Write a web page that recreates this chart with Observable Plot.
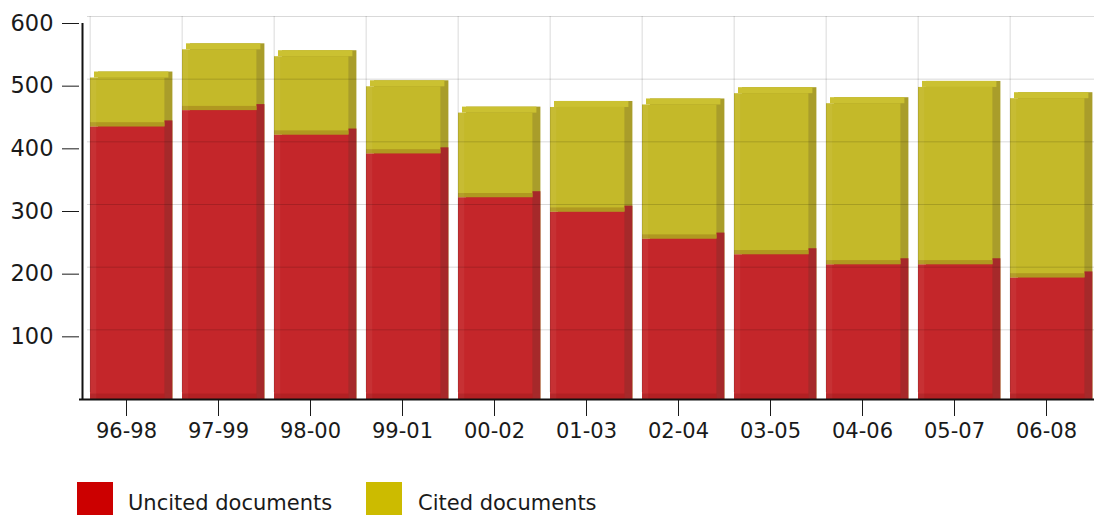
<!DOCTYPE html>
<html>
<head>
<meta charset="utf-8">
<script src="https://cdn.jsdelivr.net/npm/d3@7"></script>
<script src="https://cdn.jsdelivr.net/npm/@observablehq/plot@0.6"></script>
<style>
  html, body { margin: 0; padding: 0; background: #fff; }
  #wrap { position: relative; width: 1094px; height: 515px; overflow: hidden; font-family: "DejaVu Sans", sans-serif; }
  #legend { position: absolute; left: 0; top: 460px; width: 1094px; height: 55px; }
  .sw { position: absolute; top: 22px; width: 36px; height: 36px; }
  .lt { position: absolute; top: 33px; font-size: 21px; line-height: 21px; color: #1a1a1a; white-space: nowrap; }
  #chart svg [aria-label^="y-axis"] text { font-size: 22.5px; }
</style>
</head>
<body>
<div id="wrap">
  <div id="chart"></div>
  <div id="legend"></div>
</div>
<script>
// ---- data ----
const periods = ["96-98","97-99","98-00","99-01","00-02","01-03","02-04","03-05","04-06","05-07","06-08"];
const uncited = [435, 461, 422, 392, 322, 299, 256, 231, 215, 215, 194];
const cited   = [ 78,  97, 125, 107, 135, 167, 214, 257, 257, 283, 286];
const yTicks  = [100, 200, 300, 400, 500, 600];
const seriesNames = ["Uncited documents", "Cited documents"];

// ---- styling ----
const legendColors = ["#cc0000", "#ccbb00"];
const rFront = "#c4262a", rSide = "#a6292a";
const yFront = "#c4b929", ySide = "#a99d2a", yTop = "#cbc131";
const seam = "#b09820";

const W = 1094, H = 460, mTop = 23, mBottom = 61, mLeft = 79;
const yMax = 600;
const pxPerUnit = (H - mTop - mBottom) / yMax;
const depthPx = 6, sidePx = 8;
const depthUnits = depthPx / pxPerUnit;

const rows = periods.map((p, i) => ({period: p, uncited: uncited[i], cited: cited[i], total: uncited[i] + cited[i]}));

const inL = 10, inR = 7.6;

const chart = Plot.plot({
  width: W,
  height: H,
  marginTop: mTop,
  marginBottom: mBottom,
  marginLeft: mLeft,
  marginRight: 0,
  style: {fontFamily: "DejaVu Sans, sans-serif", fontSize: "21px", color: "#1a1a1a", background: "#fff", overflow: "visible"},
  x: {domain: periods, range: [76.65, 1096.35], padding: 0, tickSize: 17, tickPadding: 7, label: null},
  y: {domain: [0, yMax], ticks: yTicks, tickSize: 17, tickPadding: 9, label: null},
  marks: [
    // side faces (extruded, shifted back)
    Plot.barY(rows, {x: "period", y1: -depthUnits, y2: "total", fill: ySide, insetLeft: inL, insetRight: inR, dx: sidePx, dy: -depthPx}),
    Plot.barY(rows, {x: "period", y1: -depthUnits, y2: "uncited", fill: rSide, insetLeft: inL, insetRight: inR, dx: sidePx, dy: -depthPx}),
    // top face of the stack
    Plot.barY(rows, {x: "period", y1: "total", y2: d => d.total + depthUnits, fill: yTop, insetLeft: inL + sidePx / 2, insetRight: inR - sidePx / 2}),
    // front faces
    Plot.barY(rows, {x: "period", y1: "uncited", y2: "total", fill: yFront, insetLeft: inL, insetRight: inR}),
    Plot.barY(rows, {x: "period", y1: 0, y2: "uncited", fill: rFront, insetLeft: inL, insetRight: inR}),
    // seam: top of red segment seen through yellow
    Plot.barY(rows, {x: "period", y1: "uncited", y2: d => d.uncited + depthUnits * 0.7, fill: seam, insetLeft: inL, insetRight: inR}),
    // light left edge highlight
    Plot.barY(rows, {x: "period", y1: 0, y2: "total", fill: "#fff", fillOpacity: 0.05, insetLeft: inL, insetRight: 92.7 - inL - 7}),
    // bottom darker strip
    Plot.barY(rows, {x: "period", y1: 0, y2: depthUnits * 0.9, fill: "#7a0f0f", fillOpacity: 0.25, insetLeft: inL, insetRight: inR}),
    // back-wall grid (drawn translucent so it shows through the bars)
    Plot.ruleY(yTicks, {y: d => d, dy: -depthPx - 1, insetLeft: sidePx, stroke: "#000", strokeOpacity: 0.15}),
    Plot.ruleX(periods, {x: d => d, dx: -92.7 / 2 + inL, y1: 0, y2: yMax, dy: -depthPx - 1, stroke: "#000", strokeOpacity: 0.15}),
    // axis lines
    Plot.ruleY([0], {stroke: "#111", strokeWidth: 2}),
    Plot.ruleX([periods[0]], {x: d => d, dx: -92.7 / 2 + 2.35, y1: 0, y2: yMax, stroke: "#111", strokeWidth: 2})
  ]
});
document.getElementById("chart").appendChild(chart);

// legend
const legend = document.getElementById("legend");
const swX = [77, 366], txX = [128, 418];
seriesNames.forEach((name, i) => {
  const s = document.createElement("div");
  s.className = "sw";
  s.style.left = swX[i] + "px";
  s.style.background = legendColors[i];
  legend.appendChild(s);
  const t = document.createElement("div");
  t.className = "lt";
  t.style.left = txX[i] + "px";
  t.textContent = name;
  legend.appendChild(t);
});
</script>
</body>
</html>
